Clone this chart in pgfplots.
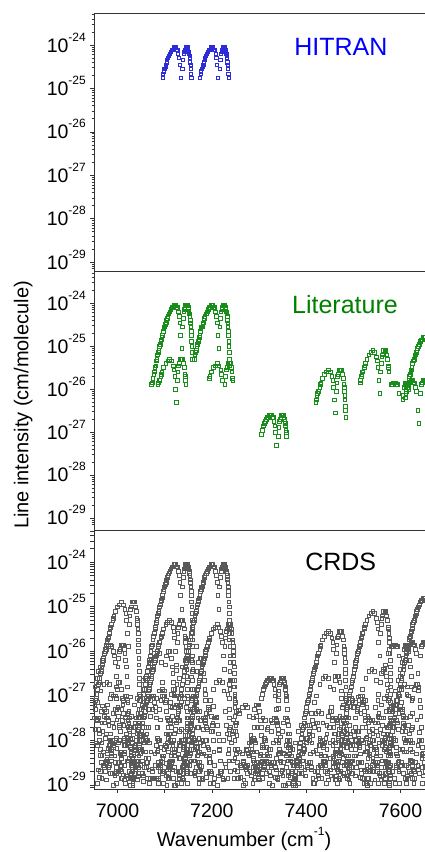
\documentclass[border=0pt]{standalone}
\usepackage{fontspec}
\setmainfont{Liberation Sans}
\usepackage{pgfplots}
\usepackage{pgfplotstable}
\pgfplotsset{compat=1.18}
\definecolor{hitblue}{RGB}{45,45,215}
\definecolor{titleblue}{RGB}{0,0,255}
\definecolor{litgreen}{RGB}{0,128,0}
\newcommand\tickfont{\fontsize{19.5bp}{22bp}\selectfont}
\newcommand\supfont{\fontsize{12bp}{12bp}\selectfont}
\newcommand\ylab[1]{10\raisebox{11bp}{\supfont #1}}

\pgfplotstableread{
x y l h
7133.4 1.8e-25 1 1
7131.8 3.5e-25 1 1
7130.1 5.0e-25 1 1
7128.4 6.3e-25 1 1
7126.6 7.9e-25 1 1
7124.8 7.9e-25 1 1
7122.9 8.9e-25 1 1
7121.0 8.9e-25 1 1
7119.0 8.9e-25 1 1
7117.0 7.9e-25 1 1
7114.9 7.9e-25 1 1
7112.8 7.1e-25 1 1
7110.6 6.3e-25 1 1
7108.4 5.6e-25 1 1
7106.1 5.0e-25 1 1
7105.0 4.5e-25 1 1
7103.8 4.0e-25 1 1
7102.6 3.5e-25 1 1
7101.4 3.2e-25 1 1
7100.2 2.8e-25 1 1
7099.0 2.8e-25 1 1
7097.7 2.5e-25 1 1
7096.5 2.2e-25 1 1
7095.2 1.8e-25 1 1
7094.0 1.6e-25 1 0
7092.7 1.4e-25 1 0
7091.4 1.3e-25 1 0
7090.1 1.1e-25 1 0
7088.7 1.0e-25 1 0
7087.4 7.9e-26 1 0
7086.1 7.1e-26 1 0
7084.7 6.3e-26 1 0
7083.3 5.0e-26 1 0
7081.9 4.5e-26 1 0
7080.5 3.5e-26 1 0
7079.1 3.2e-26 1 0
7077.7 2.5e-26 1 0
7076.3 2.2e-26 1 0
7074.8 1.8e-26 1 0
7073.4 1.4e-26 1 0
7071.9 1.3e-26 1 0
7070.4 1.0e-26 0 0
7068.9 7.9e-27 0 0
7067.4 6.3e-27 0 0
7065.9 5.6e-27 0 0
7064.3 4.5e-27 0 0
7062.8 3.5e-27 0 0
7061.2 2.8e-27 0 0
7059.7 2.2e-27 0 0
7058.1 1.8e-27 0 0
7056.5 1.4e-27 0 0
7054.9 1.1e-27 0 0
7053.2 8.9e-28 0 0
7051.6 6.3e-28 0 0
7049.9 5.0e-28 0 0
7048.3 4.0e-28 0 0
7046.6 3.2e-28 0 0
7044.9 2.5e-28 0 0
7043.2 1.8e-28 0 0
7041.5 1.4e-28 0 0
7039.8 1.0e-28 0 0
7038.0 7.9e-29 0 0
7036.3 6.3e-29 0 0
7034.5 4.5e-29 0 0
7032.8 3.5e-29 0 0
7031.0 2.5e-29 0 0
7029.1 1.8e-29 0 0
7027.4 1.4e-29 0 0
7025.5 1.0e-29 0 0
7135.8 8.9e-26 1 0
7137.3 2.8e-25 1 1
7138.7 4.5e-25 1 1
7140.1 6.3e-25 1 1
7141.5 7.1e-25 1 1
7142.8 7.9e-25 1 1
7144.0 8.9e-25 1 1
7145.2 8.9e-25 1 1
7146.3 8.9e-25 1 1
7147.4 8.9e-25 1 1
7148.5 8.9e-25 1 1
7149.5 7.9e-25 1 1
7150.4 7.1e-25 1 1
7151.3 6.3e-25 1 1
7152.2 5.6e-25 1 1
7152.9 5.0e-25 1 1
7153.7 4.0e-25 1 1
7154.4 3.5e-25 1 1
7155.0 2.8e-25 1 1
7155.6 2.2e-25 1 1
7156.1 1.8e-25 1 1
7156.6 1.3e-25 1 0
7157.1 1.0e-25 1 0
7157.5 7.1e-26 1 0
7157.8 5.0e-26 1 0
7158.1 3.5e-26 0 0
7158.3 2.5e-26 0 0
7158.5 1.8e-26 0 0
7158.7 1.3e-26 0 0
7158.7 7.9e-27 0 0
7158.8 5.6e-27 0 0
7158.8 3.5e-27 0 0
7158.7 2.2e-27 0 0
7158.6 1.4e-27 0 0
7158.4 8.9e-28 0 0
7158.2 5.0e-28 0 0
7157.9 3.2e-28 0 0
7157.6 1.8e-28 0 0
7157.3 1.1e-28 0 0
7156.8 6.3e-29 0 0
7156.4 3.5e-29 0 0
}\Bone

\pgfplotstableread{
x y l h
7212.4 1.8e-25 1 1
7210.8 3.5e-25 1 1
7209.1 5.0e-25 1 1
7207.4 6.3e-25 1 1
7205.6 7.9e-25 1 1
7203.8 7.9e-25 1 1
7201.9 8.9e-25 1 1
7200.0 8.9e-25 1 1
7198.0 8.9e-25 1 1
7196.0 7.9e-25 1 1
7193.9 7.9e-25 1 1
7191.8 7.1e-25 1 1
7189.6 6.3e-25 1 1
7187.4 5.6e-25 1 1
7185.1 5.0e-25 1 1
7184.0 4.5e-25 1 1
7182.8 4.0e-25 1 1
7181.6 3.5e-25 1 1
7180.4 3.2e-25 1 1
7179.2 2.8e-25 1 1
7178.0 2.8e-25 1 1
7176.7 2.5e-25 1 1
7175.5 2.2e-25 1 1
7174.2 1.8e-25 1 1
7173.0 1.6e-25 1 0
7171.7 1.4e-25 1 0
7170.4 1.3e-25 1 0
7169.1 1.1e-25 1 0
7167.7 1.0e-25 1 0
7166.4 7.9e-26 1 0
7165.1 7.1e-26 1 0
7163.7 6.3e-26 1 0
7162.3 5.0e-26 1 0
7160.9 4.5e-26 0 0
7159.5 3.5e-26 0 0
7158.1 3.2e-26 0 0
7156.7 2.5e-26 0 0
7155.3 2.2e-26 0 0
7153.8 1.8e-26 0 0
7152.4 1.4e-26 0 0
7150.9 1.3e-26 0 0
7149.4 1.0e-26 0 0
7147.9 7.9e-27 0 0
7146.4 6.3e-27 0 0
7144.9 5.6e-27 0 0
7143.3 4.5e-27 0 0
7141.8 3.5e-27 0 0
7140.2 2.8e-27 0 0
7138.7 2.2e-27 0 0
7137.1 1.8e-27 0 0
7135.5 1.4e-27 0 0
7133.9 1.1e-27 0 0
7132.2 8.9e-28 0 0
7130.6 6.3e-28 0 0
7128.9 5.0e-28 0 0
7127.3 4.0e-28 0 0
7125.6 3.2e-28 0 0
7123.9 2.5e-28 0 0
7122.2 1.8e-28 0 0
7120.5 1.4e-28 0 0
7118.8 1.0e-28 0 0
7117.0 7.9e-29 0 0
7115.3 6.3e-29 0 0
7113.5 4.5e-29 0 0
7111.8 3.5e-29 0 0
7110.0 2.5e-29 0 0
7108.1 1.8e-29 0 0
7106.4 1.4e-29 0 0
7104.5 1.0e-29 0 0
7214.8 8.9e-26 1 0
7216.3 2.8e-25 1 1
7217.7 4.5e-25 1 1
7219.1 6.3e-25 1 1
7220.5 7.1e-25 1 1
7221.8 7.9e-25 1 1
7223.0 8.9e-25 1 1
7224.2 8.9e-25 1 1
7225.3 8.9e-25 1 1
7226.4 8.9e-25 1 1
7227.5 8.9e-25 1 1
7228.5 7.9e-25 1 1
7229.4 7.1e-25 1 1
7230.3 6.3e-25 1 1
7231.2 5.6e-25 1 1
7231.9 5.0e-25 1 1
7232.7 4.0e-25 1 1
7233.4 3.5e-25 1 1
7234.0 2.8e-25 1 1
7234.6 2.2e-25 1 1
7235.1 1.8e-25 1 1
7235.6 1.3e-25 1 0
7236.1 1.0e-25 1 0
7236.5 7.1e-26 1 0
7236.8 5.0e-26 1 0
7237.1 3.5e-26 1 0
7237.3 2.5e-26 0 0
7237.5 1.8e-26 0 0
7237.7 1.3e-26 0 0
7237.7 7.9e-27 0 0
7237.8 5.6e-27 0 0
7237.8 3.5e-27 0 0
7237.7 2.2e-27 0 0
7237.6 1.4e-27 0 0
7237.4 8.9e-28 0 0
7237.2 5.0e-28 0 0
7236.9 3.2e-28 0 0
7236.6 1.8e-28 0 0
7236.3 1.1e-28 0 0
7235.8 6.3e-29 0 0
7235.4 3.5e-29 0 0
}\Btwo

\pgfplotstableread{
x y l
7122.4 1.0e-26 1
7120.8 2.0e-26 1
7119.1 2.8e-26 1
7117.4 3.5e-26 1
7113.8 4.5e-26 1
7110.0 5.0e-26 1
7106.0 4.5e-26 1
7101.8 4.0e-26 1
7097.4 3.2e-26 1
7094.0 2.5e-26 1
7092.8 2.2e-26 1
7091.6 2.0e-26 1
7089.2 1.6e-26 1
7088.0 1.6e-26 1
7086.7 1.4e-26 1
7085.5 1.3e-26 1
7084.2 1.0e-26 0
7083.0 8.9e-27 0
7081.7 7.9e-27 0
7080.4 7.1e-27 0
7079.1 6.3e-27 0
7077.7 5.6e-27 0
7076.4 4.5e-27 0
7075.1 4.0e-27 0
7073.7 3.5e-27 0
7072.3 2.8e-27 0
7070.9 2.5e-27 0
7069.5 2.0e-27 0
7068.1 1.8e-27 0
7066.7 1.4e-27 0
7065.3 1.3e-27 0
7063.8 1.0e-27 0
7062.4 7.9e-28 0
7060.9 7.1e-28 0
7059.4 5.6e-28 0
7057.9 4.5e-28 0
7056.4 3.5e-28 0
7054.9 3.2e-28 0
7053.3 2.5e-28 0
7051.8 2.0e-28 0
7050.2 1.6e-28 0
7048.7 1.3e-28 0
7047.1 1.0e-28 0
7045.5 7.9e-29 0
7043.9 6.3e-29 0
7042.2 5.0e-29 0
7040.6 3.5e-29 0
7038.9 2.8e-29 0
7037.3 2.2e-29 0
7035.6 1.8e-29 0
7033.9 1.4e-29 0
7032.2 1.0e-29 0
7124.8 5.0e-27 1
7126.3 1.6e-26 1
7127.7 2.5e-26 1
7129.1 3.5e-26 1
7130.5 4.0e-26 1
7133.0 5.0e-26 1
7135.3 5.0e-26 1
7137.5 5.0e-26 1
7139.4 4.0e-26 1
7141.2 3.2e-26 1
7142.7 2.2e-26 1
7143.4 2.0e-26 1
7144.0 1.6e-26 1
7144.6 1.3e-26 1
7145.1 1.0e-26 0
7145.6 7.1e-27 0
7146.1 5.6e-27 0
7146.5 4.0e-27 0
7146.8 2.8e-27 0
7147.1 2.0e-27 0
7147.3 1.4e-27 0
7147.5 1.0e-27 0
7147.7 7.1e-28 0
7147.7 4.5e-28 0
7147.8 3.2e-28 0
7147.8 2.0e-28 0
7147.7 1.3e-28 0
7147.6 7.9e-29 0
7147.4 5.0e-29 0
7147.2 2.8e-29 0
7146.9 1.8e-29 0
}\Cfive

\pgfplotstableread{
x y l
7223.4 7.9e-27 0
7221.8 1.6e-26 1
7220.1 2.2e-26 1
7218.4 2.8e-26 1
7214.8 3.5e-26 1
7211.0 4.0e-26 1
7207.0 3.5e-26 1
7202.8 3.2e-26 1
7198.4 2.5e-26 1
7195.0 2.0e-26 1
7193.8 1.8e-26 1
7192.6 1.6e-26 0
7190.2 1.3e-26 0
7189.0 1.3e-26 0
7187.7 1.1e-26 0
7186.5 1.0e-26 0
7185.2 7.9e-27 0
7184.0 7.1e-27 0
7182.7 6.3e-27 0
7181.4 5.6e-27 0
7180.1 5.0e-27 0
7178.7 4.5e-27 0
7177.4 3.5e-27 0
7176.1 3.2e-27 0
7174.7 2.8e-27 0
7173.3 2.2e-27 0
7171.9 2.0e-27 0
7170.5 1.6e-27 0
7169.1 1.4e-27 0
7167.7 1.1e-27 0
7166.3 1.0e-27 0
7164.8 7.9e-28 0
7163.4 6.3e-28 0
7161.9 5.6e-28 0
7160.4 4.5e-28 0
7158.9 3.5e-28 0
7157.4 2.8e-28 0
7155.9 2.5e-28 0
7154.3 2.0e-28 0
7152.8 1.6e-28 0
7151.2 1.3e-28 0
7149.7 1.0e-28 0
7148.1 7.9e-29 0
7146.5 6.3e-29 0
7144.9 5.0e-29 0
7143.2 4.0e-29 0
7141.6 2.8e-29 0
7139.9 2.2e-29 0
7138.3 1.8e-29 0
7136.6 1.4e-29 0
7134.9 1.1e-29 0
7225.8 4.0e-27 0
7227.3 1.3e-26 1
7228.7 2.0e-26 1
7230.1 2.8e-26 1
7231.5 3.2e-26 1
7234.0 4.0e-26 1
7236.3 4.0e-26 1
7238.5 4.0e-26 1
7240.4 3.2e-26 1
7242.2 2.5e-26 1
7243.7 1.8e-26 1
7244.4 1.6e-26 1
7245.0 1.3e-26 0
7245.6 1.0e-26 0
7246.1 7.9e-27 0
7246.6 5.6e-27 0
7247.1 4.5e-27 0
7247.5 3.2e-27 0
7247.8 2.2e-27 0
7248.1 1.6e-27 0
7248.3 1.1e-27 0
7248.5 7.9e-28 0
7248.7 5.6e-28 0
7248.7 3.5e-28 0
7248.8 2.5e-28 0
7248.8 1.6e-28 0
7248.7 1.0e-28 0
7248.6 6.3e-29 0
7248.4 4.0e-29 0
7248.2 2.2e-29 0
7247.9 1.4e-29 0
}\Csix

\pgfplotstableread{
x y l
7336.4 5.0e-28 1
7334.8 1.0e-27 1
7333.1 1.4e-27 1
7331.4 1.8e-27 1
7329.6 2.2e-27 1
7327.8 2.2e-27 1
7325.9 2.5e-27 1
7324.0 2.5e-27 1
7322.0 2.5e-27 1
7320.0 2.2e-27 1
7317.9 2.2e-27 1
7315.8 2.0e-27 1
7313.6 1.8e-27 1
7311.4 1.6e-27 1
7309.1 1.4e-27 1
7306.8 1.1e-27 1
7304.4 8.9e-28 1
7299.5 6.3e-28 0
7294.4 3.5e-28 0
7289.1 2.0e-28 0
7283.5 1.0e-28 0
7277.8 5.0e-29 0
7271.9 2.2e-29 0
7265.8 1.0e-29 0
7338.8 2.5e-28 0
7340.3 7.9e-28 1
7341.7 1.3e-27 1
7343.1 1.8e-27 1
7344.5 2.0e-27 1
7345.8 2.2e-27 1
7347.0 2.5e-27 1
7348.2 2.5e-27 1
7349.3 2.5e-27 1
7350.4 2.5e-27 1
7351.5 2.5e-27 1
7352.5 2.2e-27 1
7353.4 2.0e-27 1
7354.3 1.8e-27 1
7355.2 1.6e-27 1
7355.9 1.4e-27 1
7356.7 1.1e-27 1
7357.4 1.0e-27 1
7358.0 7.9e-28 1
7359.1 5.0e-28 0
7360.1 2.8e-28 0
7360.8 1.4e-28 0
7361.3 7.1e-29 0
7361.7 3.5e-29 0
7361.8 1.6e-29 0
}\Celeven

\pgfplotstableread{
x y l
7459.4 5.6e-27 1
7457.8 1.1e-26 1
7456.1 1.6e-26 1
7454.4 2.0e-26 1
7450.8 2.5e-26 1
7447.0 2.8e-26 1
7443.0 2.5e-26 1
7438.8 2.2e-26 1
7434.4 1.8e-26 1
7431.0 1.4e-26 1
7429.8 1.3e-26 1
7428.6 1.1e-26 1
7426.2 8.9e-27 1
7425.0 8.9e-27 1
7423.7 7.9e-27 1
7422.5 7.1e-27 1
7421.2 5.6e-27 1
7420.0 5.0e-27 1
7418.7 4.5e-27 0
7417.4 4.0e-27 0
7416.1 3.5e-27 0
7414.7 3.2e-27 0
7413.4 2.5e-27 0
7412.1 2.2e-27 0
7410.7 2.0e-27 0
7409.3 1.6e-27 0
7407.9 1.4e-27 0
7406.5 1.1e-27 0
7405.1 1.0e-27 0
7403.7 7.9e-28 0
7402.3 7.1e-28 0
7400.8 5.6e-28 0
7399.4 4.5e-28 0
7397.9 4.0e-28 0
7396.4 3.2e-28 0
7394.9 2.5e-28 0
7393.4 2.0e-28 0
7391.9 1.8e-28 0
7390.3 1.4e-28 0
7388.8 1.1e-28 0
7387.2 8.9e-29 0
7385.7 7.1e-29 0
7384.1 5.6e-29 0
7382.5 4.5e-29 0
7380.9 3.5e-29 0
7379.2 2.8e-29 0
7377.6 2.0e-29 0
7375.9 1.6e-29 0
7374.3 1.3e-29 0
7372.6 1.0e-29 0
7461.8 2.8e-27 1
7463.3 8.9e-27 1
7464.7 1.4e-26 1
7466.1 2.0e-26 1
7467.5 2.2e-26 1
7470.0 2.8e-26 1
7472.3 2.8e-26 1
7474.5 2.8e-26 1
7476.4 2.2e-26 1
7478.2 1.8e-26 1
7479.7 1.3e-26 1
7480.4 1.1e-26 1
7481.0 8.9e-27 1
7481.6 7.1e-27 1
7482.1 5.6e-27 1
7482.6 4.0e-27 1
7483.1 3.2e-27 1
7483.5 2.2e-27 1
7483.8 1.6e-27 0
7484.1 1.1e-27 0
7484.3 7.9e-28 0
7484.5 5.6e-28 0
7484.7 4.0e-28 0
7484.7 2.5e-28 0
7484.8 1.8e-28 0
7484.8 1.1e-28 0
7484.7 7.1e-29 0
7484.6 4.5e-29 0
7484.4 2.8e-29 0
7484.2 1.6e-29 0
}\Cfifteen

\pgfplotstableread{
x y l
7553.4 1.6e-26 1
7551.8 3.2e-26 1
7550.1 4.5e-26 1
7548.4 5.6e-26 1
7544.8 7.1e-26 1
7541.0 7.9e-26 1
7537.0 7.1e-26 1
7532.8 6.3e-26 1
7528.4 5.0e-26 1
7525.0 4.0e-26 1
7523.8 3.5e-26 1
7522.6 3.2e-26 1
7520.2 2.5e-26 1
7519.0 2.5e-26 1
7517.7 2.2e-26 1
7516.5 2.0e-26 1
7515.2 1.6e-26 1
7514.0 1.4e-26 1
7512.7 1.3e-26 0
7511.4 1.1e-26 0
7510.1 1.0e-26 0
7508.7 8.9e-27 0
7507.4 7.1e-27 0
7506.1 6.3e-27 0
7504.7 5.6e-27 0
7503.3 4.5e-27 0
7501.9 4.0e-27 0
7500.5 3.2e-27 0
7499.1 2.8e-27 0
7497.7 2.2e-27 0
7496.3 2.0e-27 0
7494.8 1.6e-27 0
7493.4 1.3e-27 0
7491.9 1.1e-27 0
7490.4 8.9e-28 0
7488.9 7.1e-28 0
7487.4 5.6e-28 0
7485.9 5.0e-28 0
7484.3 4.0e-28 0
7482.8 3.2e-28 0
7481.2 2.5e-28 0
7479.7 2.0e-28 0
7478.1 1.6e-28 0
7476.5 1.3e-28 0
7474.9 1.0e-28 0
7473.2 7.9e-29 0
7471.6 5.6e-29 0
7469.9 4.5e-29 0
7468.3 3.5e-29 0
7466.6 2.8e-29 0
7464.9 2.2e-29 0
7463.2 1.6e-29 0
7461.5 1.3e-29 0
7555.8 7.9e-27 1
7557.3 2.5e-26 1
7558.7 4.0e-26 1
7560.1 5.6e-26 1
7561.5 6.3e-26 1
7564.0 7.9e-26 1
7566.3 7.9e-26 1
7568.5 7.9e-26 1
7570.4 6.3e-26 1
7572.2 5.0e-26 1
7573.7 3.5e-26 1
7574.4 3.2e-26 1
7575.0 2.5e-26 1
7575.6 2.0e-26 0
7576.1 1.6e-26 0
7576.6 1.1e-26 0
7577.1 8.9e-27 0
7577.5 6.3e-27 0
7577.8 4.5e-27 0
7578.1 3.2e-27 0
7578.3 2.2e-27 0
7578.5 1.6e-27 0
7578.7 1.1e-27 0
7578.7 7.1e-28 0
7578.8 5.0e-28 0
7578.8 3.2e-28 0
7578.7 2.0e-28 0
7578.6 1.3e-28 0
7578.4 7.9e-29 0
7578.2 4.5e-29 0
7577.9 2.8e-29 0
7577.6 1.6e-29 0
}\Csixteen

\pgfplotstableread{
x y l
7651.9 1.6e-25 1
7650.0 1.6e-25 1
7648.0 1.6e-25 1
7646.0 1.4e-25 1
7643.9 1.4e-25 1
7641.8 1.3e-25 1
7639.6 1.1e-25 1
7637.4 1.0e-25 1
7635.1 8.9e-26 1
7634.0 7.9e-26 1
7632.8 7.1e-26 1
7631.6 6.3e-26 1
7630.4 5.6e-26 1
7629.2 5.0e-26 1
7628.0 5.0e-26 1
7626.7 4.5e-26 1
7625.5 4.0e-26 1
7624.2 3.2e-26 1
7623.0 2.8e-26 1
7621.7 2.5e-26 1
7620.4 2.2e-26 1
7619.1 2.0e-26 1
7617.7 1.8e-26 1
7616.4 1.4e-26 1
7615.1 1.3e-26 1
7613.7 1.1e-26 1
7612.3 8.9e-27 1
7610.9 7.9e-27 1
7609.5 6.3e-27 1
7608.1 5.6e-27 0
7606.7 4.5e-27 0
7605.3 4.0e-27 0
7603.8 3.2e-27 0
7602.4 2.5e-27 0
7600.9 2.2e-27 0
7599.4 1.8e-27 0
7597.9 1.4e-27 0
7596.4 1.1e-27 0
7594.9 1.0e-27 0
7593.3 7.9e-28 0
7591.8 6.3e-28 0
7590.2 5.0e-28 0
7588.7 4.0e-28 0
7587.1 3.2e-28 0
7585.5 2.5e-28 0
7583.9 2.0e-28 0
7582.2 1.6e-28 0
7580.6 1.1e-28 0
7578.9 8.9e-29 0
7577.3 7.1e-29 0
7575.6 5.6e-29 0
7573.9 4.5e-29 0
7572.2 3.2e-29 0
7570.5 2.5e-29 0
7568.8 1.8e-29 0
7567.0 1.4e-29 0
7565.3 1.1e-29 0
}\Cseventeen

\pgfplotstableread{
x y l
7636.4 3.2e-27 1
7633.1 8.9e-27 1
7631.4 1.1e-26 1
7629.6 1.4e-26 1
7627.8 1.4e-26 1
7625.9 1.6e-26 1
7624.0 1.6e-26 1
7622.0 1.6e-26 1
7620.0 1.4e-26 1
7617.9 1.4e-26 1
7615.8 1.3e-26 1
7611.4 1.0e-26 1
7604.4 5.6e-27 1
7599.5 4.0e-27 0
7594.4 2.2e-27 0
7589.1 1.3e-27 0
7583.5 6.3e-28 0
7577.8 3.2e-28 0
7571.9 1.4e-28 0
7565.8 6.3e-29 0
7559.5 2.5e-29 0
7638.8 1.6e-27 1
7641.7 7.9e-27 1
7644.5 1.3e-26 1
7645.8 1.4e-26 1
7647.0 1.6e-26 1
7648.2 1.6e-26 1
7649.3 1.6e-26 1
7650.4 1.6e-26 1
7651.5 1.6e-26 1
}\Ctwenty

\pgfplotstableread{
x y l
7599.4 2.8e-27 0
7596.1 7.9e-27 1
7592.6 1.3e-26 1
7590.8 1.3e-26 1
7588.9 1.4e-26 1
7587.0 1.4e-26 1
7585.0 1.4e-26 1
7583.0 1.3e-26 1
7580.9 1.3e-26 1
7574.4 8.9e-27 0
7567.4 5.0e-27 0
7562.5 3.5e-27 0
7557.4 2.0e-27 0
7552.1 1.1e-27 0
7546.5 5.6e-28 0
7540.8 2.8e-28 0
7534.9 1.3e-28 0
7528.8 5.6e-29 0
7522.5 2.2e-29 0
7601.8 1.4e-27 0
7604.7 7.1e-27 1
7607.5 1.1e-26 1
7608.8 1.3e-26 1
7610.0 1.4e-26 1
7611.2 1.4e-26 1
7612.3 1.4e-26 1
7613.4 1.4e-26 1
7614.5 1.4e-26 1
7617.3 1.0e-26 1
7619.7 6.3e-27 0
7621.0 4.5e-27 0
7622.1 2.8e-27 0
7623.1 1.6e-27 0
7623.8 7.9e-28 0
7624.3 4.0e-28 0
7624.7 2.0e-28 0
7624.8 8.9e-29 0
7624.7 3.5e-29 0
7624.4 1.4e-29 0
}\Ctwentyone

\pgfplotstableread{
x y
7020.4 2.5e-26
7018.8 5.0e-26
7017.1 7.1e-26
7015.4 8.9e-26
7011.8 1.1e-25
7008.0 1.3e-25
7004.0 1.1e-25
6999.8 1.0e-25
6995.4 7.9e-26
6992.0 6.3e-26
6990.8 5.6e-26
6989.6 5.0e-26
6987.2 4.0e-26
6986.0 4.0e-26
6984.7 3.5e-26
6983.5 3.2e-26
6982.2 2.5e-26
6981.0 2.2e-26
6979.7 2.0e-26
6978.4 1.8e-26
6977.1 1.6e-26
6975.7 1.4e-26
6974.4 1.1e-26
6973.1 1.0e-26
6971.7 8.9e-27
6970.3 7.1e-27
6968.9 6.3e-27
6967.5 5.0e-27
6966.1 4.5e-27
6964.7 3.5e-27
6963.3 3.2e-27
6961.8 2.5e-27
6960.4 2.0e-27
6958.9 1.8e-27
6957.4 1.4e-27
6955.9 1.1e-27
6954.4 8.9e-28
6952.9 7.9e-28
6951.3 6.3e-28
7022.8 1.3e-26
7024.3 4.0e-26
7025.7 6.3e-26
7027.1 8.9e-26
7028.5 1.0e-25
7031.0 1.3e-25
7033.3 1.3e-25
7035.5 1.3e-25
7037.4 1.0e-25
7039.2 7.9e-26
7040.7 5.6e-26
7041.4 5.0e-26
7042.0 4.0e-26
7042.6 3.2e-26
7043.1 2.5e-26
7043.6 1.8e-26
7044.1 1.4e-26
7044.5 1.0e-26
7044.8 7.1e-27
7045.1 5.0e-27
7045.3 3.5e-27
7045.5 2.5e-27
7045.7 1.8e-27
7045.7 1.1e-27
7045.8 7.9e-28
7045.8 5.0e-28
7045.7 3.2e-28
7045.6 2.0e-28
7045.4 1.3e-28
7045.2 7.1e-29
7044.9 4.5e-29
7044.6 2.5e-29
7044.3 1.6e-29
6996.4 2.8e-27
6994.8 5.6e-27
6993.1 7.9e-27
6991.4 1.0e-26
6987.8 1.3e-26
6984.0 1.4e-26
6980.0 1.3e-26
6975.8 1.1e-26
6971.4 8.9e-27
6966.8 6.3e-27
6962.0 4.5e-27
6959.5 3.5e-27
6957.0 2.5e-27
6954.4 2.0e-27
6951.7 1.6e-27
6998.8 1.4e-27
7000.3 4.5e-27
7001.7 7.1e-27
7003.1 1.0e-26
7004.5 1.1e-26
7007.0 1.4e-26
7009.3 1.4e-26
7011.5 1.4e-26
7013.4 1.1e-26
7015.2 8.9e-27
7016.7 6.3e-27
7018.0 4.5e-27
7019.1 2.8e-27
7020.1 1.6e-27
7020.8 7.9e-28
7021.3 4.0e-28
7021.7 2.0e-28
7021.8 8.9e-29
7021.7 3.5e-29
7021.4 1.4e-29
7162.4 1.4e-27
7159.1 4.0e-27
7155.6 6.3e-27
7150.0 7.1e-27
7143.9 6.3e-27
7137.4 4.5e-27
7130.4 2.5e-27
7125.5 1.8e-27
7120.4 1.0e-27
7115.1 5.6e-28
7109.5 2.8e-28
7103.8 1.4e-28
7097.9 6.3e-29
7091.8 2.8e-29
7085.5 1.1e-29
7164.8 7.1e-28
7167.7 3.5e-27
7170.5 5.6e-27
7174.2 7.1e-27
7177.5 7.1e-27
7180.3 5.0e-27
7182.7 3.2e-27
7184.0 2.2e-27
7185.1 1.4e-27
7186.1 7.9e-28
7186.8 4.0e-28
7187.3 2.0e-28
7187.7 1.0e-28
7187.8 4.5e-29
7187.7 1.8e-29
7095.4 2.0e-27
7092.1 5.6e-27
7088.6 8.9e-27
7083.0 1.0e-26
7076.9 8.9e-27
7070.4 6.3e-27
7063.4 3.5e-27
7058.5 2.5e-27
7053.4 1.4e-27
7048.1 7.9e-28
7042.5 4.0e-28
7036.8 2.0e-28
7030.9 8.9e-29
7024.8 4.0e-29
7018.5 1.6e-29
7097.8 1.0e-27
7100.7 5.0e-27
7103.5 7.9e-27
7107.2 1.0e-26
7110.5 1.0e-26
7113.3 7.1e-27
7115.7 4.5e-27
7117.0 3.2e-27
7118.1 2.0e-27
7119.1 1.1e-27
7119.8 5.6e-28
7120.3 2.8e-28
7120.7 1.4e-28
7120.8 6.3e-29
7120.7 2.5e-29
7120.4 1.0e-29
6989.4 4.0e-28
6986.1 1.1e-27
6982.6 1.8e-27
6977.0 2.0e-27
6970.9 1.8e-27
6964.4 1.3e-27
6957.4 7.1e-28
6952.5 5.0e-28
6991.8 2.0e-28
6994.7 1.0e-27
6997.5 1.6e-27
7001.2 2.0e-27
7004.5 2.0e-27
7007.3 1.4e-27
7009.7 8.9e-28
7011.0 6.3e-28
7012.1 4.0e-28
7013.1 2.2e-28
7013.8 1.1e-28
7014.3 5.6e-29
7014.7 2.8e-29
7014.8 1.3e-29
7228.4 4.5e-28
7225.1 1.3e-27
7221.6 2.0e-27
7216.0 2.2e-27
7209.9 2.0e-27
7203.4 1.4e-27
7196.4 7.9e-28
7191.5 5.6e-28
7186.4 3.2e-28
7181.1 1.8e-28
7175.5 8.9e-29
7169.8 4.5e-29
7163.9 2.0e-29
7230.8 2.2e-28
7233.7 1.1e-27
7236.5 1.8e-27
7240.2 2.2e-27
7243.5 2.2e-27
7246.3 1.6e-27
7248.7 1.0e-27
7250.0 7.1e-28
7251.1 4.5e-28
7252.1 2.5e-28
7252.8 1.3e-28
7253.3 6.3e-29
7253.7 3.2e-29
7253.8 1.4e-29
7320.4 6.3e-29
7317.1 1.8e-28
7313.6 2.8e-28
7308.0 3.2e-28
7301.9 2.8e-28
7295.4 2.0e-28
7288.4 1.1e-28
7283.5 7.9e-29
7278.4 4.5e-29
7273.1 2.5e-29
7267.5 1.3e-29
7322.8 3.2e-29
7325.7 1.6e-28
7328.5 2.5e-28
7332.2 3.2e-28
7335.5 3.2e-28
7338.3 2.2e-28
7340.7 1.4e-28
7342.0 1.0e-28
7343.1 6.3e-29
7344.1 3.5e-29
7344.8 1.8e-29
7328.4 1.0e-29
7325.1 2.8e-29
7321.6 4.5e-29
7316.0 5.0e-29
7309.9 4.5e-29
7303.4 3.2e-29
7296.4 1.8e-29
7291.5 1.3e-29
7333.7 2.5e-29
7336.5 4.0e-29
7340.2 5.0e-29
7343.5 5.0e-29
7346.3 3.5e-29
7348.7 2.2e-29
7350.0 1.6e-29
7351.1 1.0e-29
7282.4 1.3e-28
7279.1 3.5e-28
7275.6 5.6e-28
7270.0 6.3e-28
7263.9 5.6e-28
7257.4 4.0e-28
7250.4 2.2e-28
7245.5 1.6e-28
7240.4 8.9e-29
7235.1 5.0e-29
7229.5 2.5e-29
7223.8 1.3e-29
7284.8 6.3e-29
7287.7 3.2e-28
7290.5 5.0e-28
7294.2 6.3e-28
7297.5 6.3e-28
7300.3 4.5e-28
7302.7 2.8e-28
7304.0 2.0e-28
7305.1 1.3e-28
7306.1 7.1e-29
7306.8 3.5e-29
7307.3 1.8e-29
7453.4 5.6e-28
7450.1 1.6e-27
7446.6 2.5e-27
7441.0 2.8e-27
7434.9 2.5e-27
7428.4 1.8e-27
7421.4 1.0e-27
7416.5 7.1e-28
7411.4 4.0e-28
7406.1 2.2e-28
7400.5 1.1e-28
7394.8 5.6e-29
7388.9 2.5e-29
7382.8 1.1e-29
7455.8 2.8e-28
7458.7 1.4e-27
7461.5 2.2e-27
7465.2 2.8e-27
7468.5 2.8e-27
7471.3 2.0e-27
7473.7 1.3e-27
7475.0 8.9e-28
7476.1 5.6e-28
7477.1 3.2e-28
7477.8 1.6e-28
7478.3 7.9e-29
7478.7 4.0e-29
7478.8 1.8e-29
7551.4 7.9e-28
7548.1 2.2e-27
7544.6 3.5e-27
7539.0 4.0e-27
7532.9 3.5e-27
7526.4 2.5e-27
7519.4 1.4e-27
7514.5 1.0e-27
7509.4 5.6e-28
7504.1 3.2e-28
7498.5 1.6e-28
7492.8 7.9e-29
7486.9 3.5e-29
7480.8 1.6e-29
7553.8 4.0e-28
7556.7 2.0e-27
7559.5 3.2e-27
7563.2 4.0e-27
7566.5 4.0e-27
7569.3 2.8e-27
7571.7 1.8e-27
7573.0 1.3e-27
7574.1 7.9e-28
7575.1 4.5e-28
7575.8 2.2e-28
7576.3 1.1e-28
7576.7 5.6e-29
7576.8 2.5e-29
7576.7 1.0e-29
7438.4 8.9e-29
7435.1 2.5e-28
7431.6 4.0e-28
7426.0 4.5e-28
7419.9 4.0e-28
7413.4 2.8e-28
7406.4 1.6e-28
7401.5 1.1e-28
7396.4 6.3e-29
7391.1 3.5e-29
7385.5 1.8e-29
7440.8 4.5e-29
7443.7 2.2e-28
7446.5 3.5e-28
7450.2 4.5e-28
7453.5 4.5e-28
7456.3 3.2e-28
7458.7 2.0e-28
7460.0 1.4e-28
7461.1 8.9e-29
7462.1 5.0e-29
7462.8 2.5e-29
7463.3 1.3e-29
7510.4 1.6e-28
7507.1 4.5e-28
7503.6 7.1e-28
7498.0 7.9e-28
7491.9 7.1e-28
7485.4 5.0e-28
7478.4 2.8e-28
7473.5 2.0e-28
7468.4 1.1e-28
7463.1 6.3e-29
7457.5 3.2e-29
7451.8 1.6e-29
7512.8 7.9e-29
7515.7 4.0e-28
7518.5 6.3e-28
7522.2 7.9e-28
7525.5 7.9e-28
7528.3 5.6e-28
7530.7 3.5e-28
7532.0 2.5e-28
7533.1 1.6e-28
7534.1 8.9e-29
7534.8 4.5e-29
7535.3 2.2e-29
7535.7 1.1e-29
7202.1 1.1e-29
7198.6 1.8e-29
7193.0 2.0e-29
7186.9 1.8e-29
7180.4 1.3e-29
7210.7 1.0e-29
7213.5 1.6e-29
7217.2 2.0e-29
7220.5 2.0e-29
7223.3 1.4e-29
7060.4 2.0e-28
7057.1 5.6e-28
7053.6 8.9e-28
7048.0 1.0e-27
7041.9 8.9e-28
7035.4 6.3e-28
7028.4 3.5e-28
7023.5 2.5e-28
7018.4 1.4e-28
7013.1 7.9e-29
7007.5 4.0e-29
7001.8 2.0e-29
7062.8 1.0e-28
7065.7 5.0e-28
7068.5 7.9e-28
7072.2 1.0e-27
7075.5 1.0e-27
7078.3 7.1e-28
7080.7 4.5e-28
7082.0 3.2e-28
7083.1 2.0e-28
7084.1 1.1e-28
7084.8 5.6e-29
7085.3 2.8e-29
7085.7 1.4e-29
7106.4 2.8e-28
7103.1 7.9e-28
7099.6 1.3e-27
7094.0 1.4e-27
7087.9 1.3e-27
7081.4 8.9e-28
7074.4 5.0e-28
7069.5 3.5e-28
7064.4 2.0e-28
7059.1 1.1e-28
7053.5 5.6e-29
7047.8 2.8e-29
7041.9 1.3e-29
7108.8 1.4e-28
7111.7 7.1e-28
7114.5 1.1e-27
7118.2 1.4e-27
7121.5 1.4e-27
7124.3 1.0e-27
7126.7 6.3e-28
7128.0 4.5e-28
7129.1 2.8e-28
7130.1 1.6e-28
7130.8 7.9e-29
7131.3 4.0e-29
7131.7 2.0e-29
7180.4 1.0e-28
7177.1 2.8e-28
7173.6 4.5e-28
7168.0 5.0e-28
7161.9 4.5e-28
7155.4 3.2e-28
7148.4 1.8e-28
7143.5 1.3e-28
7138.4 7.1e-29
7133.1 4.0e-29
7127.5 2.0e-29
7121.8 1.0e-29
7182.8 5.0e-29
7185.7 2.5e-28
7188.5 4.0e-28
7192.2 5.0e-28
7195.5 5.0e-28
7198.3 3.5e-28
7200.7 2.2e-28
7202.0 1.6e-28
7203.1 1.0e-28
7204.1 5.6e-29
7204.8 2.8e-29
7205.3 1.4e-29
7038.4 2.5e-29
7035.1 7.1e-29
7031.6 1.1e-28
7026.0 1.3e-28
7019.9 1.1e-28
7013.4 7.9e-29
7006.4 4.5e-29
7001.5 3.2e-29
6996.4 1.8e-29
6991.1 1.0e-29
7043.7 6.3e-29
7046.5 1.0e-28
7050.2 1.3e-28
7053.5 1.3e-28
7056.3 8.9e-29
7058.7 5.6e-29
7060.0 4.0e-29
7061.1 2.5e-29
7062.1 1.4e-29
7148.4 2.0e-29
7145.1 5.6e-29
7141.6 8.9e-29
7136.0 1.0e-28
7129.9 8.9e-29
7123.4 6.3e-29
7116.4 3.5e-29
7111.5 2.5e-29
7106.4 1.4e-29
7153.7 5.0e-29
7156.5 7.9e-29
7160.2 1.0e-28
7163.5 1.0e-28
7166.3 7.1e-29
7168.7 4.5e-29
7170.0 3.2e-29
7171.1 2.0e-29
7172.1 1.1e-29
7408.4 5.0e-29
7405.1 1.4e-28
7401.6 2.2e-28
7396.0 2.5e-28
7389.9 2.2e-28
7383.4 1.6e-28
7376.4 8.9e-29
7371.5 6.3e-29
7366.4 3.5e-29
7361.1 2.0e-29
7355.5 1.0e-29
7410.8 2.5e-29
7413.7 1.3e-28
7416.5 2.0e-28
7420.2 2.5e-28
7423.5 2.5e-28
7426.3 1.8e-28
7428.7 1.1e-28
7430.0 7.9e-29
7431.1 5.0e-29
7432.1 2.8e-29
7432.8 1.4e-29
7493.4 3.2e-29
7490.1 8.9e-29
7486.6 1.4e-28
7481.0 1.6e-28
7474.9 1.4e-28
7468.4 1.0e-28
7461.4 5.6e-29
7456.5 4.0e-29
7451.4 2.2e-29
7446.1 1.3e-29
7498.7 7.9e-29
7501.5 1.3e-28
7505.2 1.6e-28
7508.5 1.6e-28
7511.3 1.1e-28
7513.7 7.1e-29
7515.0 5.0e-29
7516.1 3.2e-29
7517.1 1.8e-29
7588.4 1.0e-28
7585.1 2.8e-28
7581.6 4.5e-28
7576.0 5.0e-28
7569.9 4.5e-28
7563.4 3.2e-28
7556.4 1.8e-28
7551.5 1.3e-28
7546.4 7.1e-29
7541.1 4.0e-29
7535.5 2.0e-29
7529.8 1.0e-29
7590.8 5.0e-29
7593.7 2.5e-28
7596.5 4.0e-28
7600.2 5.0e-28
7603.5 5.0e-28
7606.3 3.5e-28
7608.7 2.2e-28
7610.0 1.6e-28
7611.1 1.0e-28
7612.1 5.6e-29
7612.8 2.8e-29
7613.3 1.4e-29
7620.4 3.5e-28
7617.1 1.0e-27
7613.6 1.6e-27
7608.0 1.8e-27
7601.9 1.6e-27
7595.4 1.1e-27
7588.4 6.3e-28
7583.5 4.5e-28
7578.4 2.5e-28
7573.1 1.4e-28
7567.5 7.1e-29
7561.8 3.5e-29
7555.9 1.6e-29
7622.8 1.8e-28
7625.7 8.9e-28
7628.5 1.4e-27
7632.2 1.8e-27
7635.5 1.8e-27
7638.3 1.3e-27
7640.7 7.9e-28
7642.0 5.6e-28
7643.1 3.5e-28
7644.1 2.0e-28
7644.8 1.0e-28
7645.3 5.0e-29
7645.7 2.5e-29
7645.8 1.1e-29
7376.4 1.0e-29
7373.1 2.8e-29
7369.6 4.5e-29
7364.0 5.0e-29
7357.9 4.5e-29
7351.4 3.2e-29
7344.4 1.8e-29
7339.5 1.3e-29
7381.7 2.5e-29
7384.5 4.0e-29
7388.2 5.0e-29
7391.5 5.0e-29
7394.3 3.5e-29
7396.7 2.2e-29
7398.0 1.6e-29
7270.4 1.1e-29
7267.1 3.2e-29
7263.6 5.0e-29
7258.0 5.6e-29
7251.9 5.0e-29
7245.4 3.5e-29
7238.4 2.0e-29
7233.5 1.4e-29
7275.7 2.8e-29
7278.5 4.5e-29
7282.2 5.6e-29
7285.5 5.6e-29
7288.3 4.0e-29
7290.7 2.5e-29
7292.0 1.8e-29
6983.4 1.0e-28
6980.1 2.8e-28
6976.6 4.5e-28
6971.0 5.0e-28
6964.9 4.5e-28
6958.4 3.2e-28
6951.4 1.8e-28
6985.8 5.0e-29
6988.7 2.5e-28
6991.5 4.0e-28
6995.2 5.0e-28
6998.5 5.0e-28
7001.3 3.5e-28
7003.7 2.2e-28
7005.0 1.6e-28
7006.1 1.0e-28
7007.1 5.6e-29
7007.8 2.8e-29
7008.3 1.4e-29
}\Cweak

\pgfplotstableread{
x y
6973.4 2.0e-29
6970.1 5.6e-29
6966.6 8.9e-29
6961.0 1.0e-28
6954.9 8.9e-29
6978.7 5.0e-29
6981.5 7.9e-29
6985.2 1.0e-28
6988.5 1.0e-28
6991.3 7.1e-29
6993.7 4.5e-29
6995.0 3.2e-29
6996.1 2.0e-29
6997.1 1.1e-29
7008.4 2.0e-29
7005.1 5.6e-29
7001.6 8.9e-29
6996.0 1.0e-28
6989.9 8.9e-29
6983.4 6.3e-29
6976.4 3.5e-29
6971.5 2.5e-29
6966.4 1.4e-29
7013.7 5.0e-29
7016.5 7.9e-29
7020.2 1.0e-28
7023.5 1.0e-28
7026.3 7.1e-29
7028.7 4.5e-29
7030.0 3.2e-29
7031.1 2.0e-29
7032.1 1.1e-29
7073.4 2.0e-29
7070.1 5.6e-29
7066.6 8.9e-29
7061.0 1.0e-28
7054.9 8.9e-29
7048.4 6.3e-29
7041.4 3.5e-29
7036.5 2.5e-29
7031.4 1.4e-29
7078.7 5.0e-29
7081.5 7.9e-29
7085.2 1.0e-28
7088.5 1.0e-28
7091.3 7.1e-29
7093.7 4.5e-29
7095.0 3.2e-29
7096.1 2.0e-29
7097.1 1.1e-29
7123.4 2.0e-29
7120.1 5.6e-29
7116.6 8.9e-29
7111.0 1.0e-28
7104.9 8.9e-29
7098.4 6.3e-29
7091.4 3.5e-29
7086.5 2.5e-29
7081.4 1.4e-29
7128.7 5.0e-29
7131.5 7.9e-29
7135.2 1.0e-28
7138.5 1.0e-28
7141.3 7.1e-29
7143.7 4.5e-29
7145.0 3.2e-29
7146.1 2.0e-29
7147.1 1.1e-29
7173.4 2.0e-29
7170.1 5.6e-29
7166.6 8.9e-29
7161.0 1.0e-28
7154.9 8.9e-29
7148.4 6.3e-29
7141.4 3.5e-29
7136.5 2.5e-29
7131.4 1.4e-29
7178.7 5.0e-29
7181.5 7.9e-29
7185.2 1.0e-28
7188.5 1.0e-28
7191.3 7.1e-29
7193.7 4.5e-29
7195.0 3.2e-29
7196.1 2.0e-29
7197.1 1.1e-29
7298.4 2.0e-29
7295.1 5.6e-29
7291.6 8.9e-29
7286.0 1.0e-28
7279.9 8.9e-29
7273.4 6.3e-29
7266.4 3.5e-29
7261.5 2.5e-29
7256.4 1.4e-29
7303.7 5.0e-29
7306.5 7.9e-29
7310.2 1.0e-28
7313.5 1.0e-28
7316.3 7.1e-29
7318.7 4.5e-29
7320.0 3.2e-29
7321.1 2.0e-29
7322.1 1.1e-29
7348.4 2.0e-29
7345.1 5.6e-29
7341.6 8.9e-29
7336.0 1.0e-28
7329.9 8.9e-29
7323.4 6.3e-29
7316.4 3.5e-29
7311.5 2.5e-29
7306.4 1.4e-29
7353.7 5.0e-29
7356.5 7.9e-29
7360.2 1.0e-28
7363.5 1.0e-28
7366.3 7.1e-29
7368.7 4.5e-29
7370.0 3.2e-29
7371.1 2.0e-29
7372.1 1.1e-29
7418.4 2.0e-29
7415.1 5.6e-29
7411.6 8.9e-29
7406.0 1.0e-28
7399.9 8.9e-29
7393.4 6.3e-29
7386.4 3.5e-29
7381.5 2.5e-29
7376.4 1.4e-29
7423.7 5.0e-29
7426.5 7.9e-29
7430.2 1.0e-28
7433.5 1.0e-28
7436.3 7.1e-29
7438.7 4.5e-29
7440.0 3.2e-29
7441.1 2.0e-29
7442.1 1.1e-29
7468.4 2.0e-29
7465.1 5.6e-29
7461.6 8.9e-29
7456.0 1.0e-28
7449.9 8.9e-29
7443.4 6.3e-29
7436.4 3.5e-29
7431.5 2.5e-29
7426.4 1.4e-29
7473.7 5.0e-29
7476.5 7.9e-29
7480.2 1.0e-28
7483.5 1.0e-28
7486.3 7.1e-29
7488.7 4.5e-29
7490.0 3.2e-29
7491.1 2.0e-29
7492.1 1.1e-29
7528.4 2.0e-29
7525.1 5.6e-29
7521.6 8.9e-29
7516.0 1.0e-28
7509.9 8.9e-29
7503.4 6.3e-29
7496.4 3.5e-29
7491.5 2.5e-29
7486.4 1.4e-29
7533.7 5.0e-29
7536.5 7.9e-29
7540.2 1.0e-28
7543.5 1.0e-28
7546.3 7.1e-29
7548.7 4.5e-29
7550.0 3.2e-29
7551.1 2.0e-29
7552.1 1.1e-29
7573.4 2.0e-29
7570.1 5.6e-29
7566.6 8.9e-29
7561.0 1.0e-28
7554.9 8.9e-29
7548.4 6.3e-29
7541.4 3.5e-29
7536.5 2.5e-29
7531.4 1.4e-29
7578.7 5.0e-29
7581.5 7.9e-29
7585.2 1.0e-28
7588.5 1.0e-28
7591.3 7.1e-29
7593.7 4.5e-29
7595.0 3.2e-29
7596.1 2.0e-29
7597.1 1.1e-29
7628.4 2.0e-29
7625.1 5.6e-29
7621.6 8.9e-29
7616.0 1.0e-28
7609.9 8.9e-29
7603.4 6.3e-29
7596.4 3.5e-29
7591.5 2.5e-29
7586.4 1.4e-29
7633.7 5.0e-29
7636.5 7.9e-29
7640.2 1.0e-28
7643.5 1.0e-28
7646.3 7.1e-29
7648.7 4.5e-29
7650.0 3.2e-29
7651.1 2.0e-29
6985.1 1.8e-29
6981.6 2.8e-29
6976.0 3.2e-29
6969.9 2.8e-29
6963.4 2.0e-29
6956.4 1.1e-29
6993.7 1.6e-29
6996.5 2.5e-29
7000.2 3.2e-29
7003.5 3.2e-29
7006.3 2.2e-29
7008.7 1.4e-29
7045.1 1.8e-29
7041.6 2.8e-29
7036.0 3.2e-29
7029.9 2.8e-29
7023.4 2.0e-29
7016.4 1.1e-29
7053.7 1.6e-29
7056.5 2.5e-29
7060.2 3.2e-29
7063.5 3.2e-29
7066.3 2.2e-29
7068.7 1.4e-29
7095.1 1.8e-29
7091.6 2.8e-29
7086.0 3.2e-29
7079.9 2.8e-29
7073.4 2.0e-29
7066.4 1.1e-29
7103.7 1.6e-29
7106.5 2.5e-29
7110.2 3.2e-29
7113.5 3.2e-29
7116.3 2.2e-29
7118.7 1.4e-29
7155.1 1.8e-29
7151.6 2.8e-29
7146.0 3.2e-29
7139.9 2.8e-29
7133.4 2.0e-29
7126.4 1.1e-29
7163.7 1.6e-29
7166.5 2.5e-29
7170.2 3.2e-29
7173.5 3.2e-29
7176.3 2.2e-29
7178.7 1.4e-29
7275.1 1.8e-29
7271.6 2.8e-29
7266.0 3.2e-29
7259.9 2.8e-29
7253.4 2.0e-29
7283.7 1.6e-29
7286.5 2.5e-29
7290.2 3.2e-29
7293.5 3.2e-29
7296.3 2.2e-29
7298.7 1.4e-29
7315.1 1.8e-29
7311.6 2.8e-29
7306.0 3.2e-29
7299.9 2.8e-29
7293.4 2.0e-29
7286.4 1.1e-29
7323.7 1.6e-29
7326.5 2.5e-29
7330.2 3.2e-29
7333.5 3.2e-29
7336.3 2.2e-29
7338.7 1.4e-29
7390.1 1.8e-29
7386.6 2.8e-29
7381.0 3.2e-29
7374.9 2.8e-29
7368.4 2.0e-29
7361.4 1.1e-29
7398.7 1.6e-29
7401.5 2.5e-29
7405.2 3.2e-29
7408.5 3.2e-29
7411.3 2.2e-29
7413.7 1.4e-29
7445.1 1.8e-29
7441.6 2.8e-29
7436.0 3.2e-29
7429.9 2.8e-29
7423.4 2.0e-29
7416.4 1.1e-29
7453.7 1.6e-29
7456.5 2.5e-29
7460.2 3.2e-29
7463.5 3.2e-29
7466.3 2.2e-29
7468.7 1.4e-29
7495.1 1.8e-29
7491.6 2.8e-29
7486.0 3.2e-29
7479.9 2.8e-29
7473.4 2.0e-29
7466.4 1.1e-29
7503.7 1.6e-29
7506.5 2.5e-29
7510.2 3.2e-29
7513.5 3.2e-29
7516.3 2.2e-29
7518.7 1.4e-29
7555.1 1.8e-29
7551.6 2.8e-29
7546.0 3.2e-29
7539.9 2.8e-29
7533.4 2.0e-29
7526.4 1.1e-29
7563.7 1.6e-29
7566.5 2.5e-29
7570.2 3.2e-29
7573.5 3.2e-29
7576.3 2.2e-29
7578.7 1.4e-29
7605.1 1.8e-29
7601.6 2.8e-29
7596.0 3.2e-29
7589.9 2.8e-29
7583.4 2.0e-29
7576.4 1.1e-29
7613.7 1.6e-29
7616.5 2.5e-29
7620.2 3.2e-29
7623.5 3.2e-29
7626.3 2.2e-29
7628.7 1.4e-29
7640.1 1.8e-29
7636.6 2.8e-29
7631.0 3.2e-29
7624.9 2.8e-29
7618.4 2.0e-29
7611.4 1.1e-29
7648.7 1.6e-29
7651.5 2.5e-29
6963.4 6.3e-29
6960.1 1.8e-28
6956.6 2.8e-28
6951.0 3.2e-28
6965.8 3.2e-29
6968.7 1.6e-28
6971.5 2.5e-28
6975.2 3.2e-28
6978.5 3.2e-28
6981.3 2.2e-28
6983.7 1.4e-28
6985.0 1.0e-28
6986.1 6.3e-29
6987.1 3.5e-29
6987.8 1.8e-29
7028.4 6.3e-29
7025.1 1.8e-28
7021.6 2.8e-28
7016.0 3.2e-28
7009.9 2.8e-28
7003.4 2.0e-28
6996.4 1.1e-28
6991.5 7.9e-29
6986.4 4.5e-29
6981.1 2.5e-29
6975.5 1.3e-29
7030.8 3.2e-29
7033.7 1.6e-28
7036.5 2.5e-28
7040.2 3.2e-28
7043.5 3.2e-28
7046.3 2.2e-28
7048.7 1.4e-28
7050.0 1.0e-28
7051.1 6.3e-29
7052.1 3.5e-29
7052.8 1.8e-29
7138.4 6.3e-29
7135.1 1.8e-28
7131.6 2.8e-28
7126.0 3.2e-28
7119.9 2.8e-28
7113.4 2.0e-28
7106.4 1.1e-28
7101.5 7.9e-29
7096.4 4.5e-29
7091.1 2.5e-29
7085.5 1.3e-29
7140.8 3.2e-29
7143.7 1.6e-28
7146.5 2.5e-28
7150.2 3.2e-28
7153.5 3.2e-28
7156.3 2.2e-28
7158.7 1.4e-28
7160.0 1.0e-28
7161.1 6.3e-29
7162.1 3.5e-29
7162.8 1.8e-29
7193.4 6.3e-29
7190.1 1.8e-28
7186.6 2.8e-28
7181.0 3.2e-28
7174.9 2.8e-28
7168.4 2.0e-28
7161.4 1.1e-28
7156.5 7.9e-29
7151.4 4.5e-29
7146.1 2.5e-29
7140.5 1.3e-29
7195.8 3.2e-29
7198.7 1.6e-28
7201.5 2.5e-28
7205.2 3.2e-28
7208.5 3.2e-28
7211.3 2.2e-28
7213.7 1.4e-28
7215.0 1.0e-28
7216.1 6.3e-29
7217.1 3.5e-29
7217.8 1.8e-29
7343.4 6.3e-29
7340.1 1.8e-28
7336.6 2.8e-28
7331.0 3.2e-28
7324.9 2.8e-28
7318.4 2.0e-28
7311.4 1.1e-28
7306.5 7.9e-29
7301.4 4.5e-29
7296.1 2.5e-29
7290.5 1.3e-29
7345.8 3.2e-29
7348.7 1.6e-28
7351.5 2.5e-28
7355.2 3.2e-28
7358.5 3.2e-28
7361.3 2.2e-28
7363.7 1.4e-28
7365.0 1.0e-28
7366.1 6.3e-29
7367.1 3.5e-29
7367.8 1.8e-29
7473.4 6.3e-29
7470.1 1.8e-28
7466.6 2.8e-28
7461.0 3.2e-28
7454.9 2.8e-28
7448.4 2.0e-28
7441.4 1.1e-28
7436.5 7.9e-29
7431.4 4.5e-29
7426.1 2.5e-29
7420.5 1.3e-29
7475.8 3.2e-29
7478.7 1.6e-28
7481.5 2.5e-28
7485.2 3.2e-28
7488.5 3.2e-28
7491.3 2.2e-28
7493.7 1.4e-28
7495.0 1.0e-28
7496.1 6.3e-29
7497.1 3.5e-29
7497.8 1.8e-29
7543.4 6.3e-29
7540.1 1.8e-28
7536.6 2.8e-28
7531.0 3.2e-28
7524.9 2.8e-28
7518.4 2.0e-28
7511.4 1.1e-28
7506.5 7.9e-29
7501.4 4.5e-29
7496.1 2.5e-29
7490.5 1.3e-29
7545.8 3.2e-29
7548.7 1.6e-28
7551.5 2.5e-28
7555.2 3.2e-28
7558.5 3.2e-28
7561.3 2.2e-28
7563.7 1.4e-28
7565.0 1.0e-28
7566.1 6.3e-29
7567.1 3.5e-29
7567.8 1.8e-29
7598.4 6.3e-29
7595.1 1.8e-28
7591.6 2.8e-28
7586.0 3.2e-28
7579.9 2.8e-28
7573.4 2.0e-28
7566.4 1.1e-28
7561.5 7.9e-29
7556.4 4.5e-29
7551.1 2.5e-29
7545.5 1.3e-29
7600.8 3.2e-29
7603.7 1.6e-28
7606.5 2.5e-28
7610.2 3.2e-28
7613.5 3.2e-28
7616.3 2.2e-28
7618.7 1.4e-28
7620.0 1.0e-28
7621.1 6.3e-29
7622.1 3.5e-29
7622.8 1.8e-29
7003.4 2.0e-28
7000.1 5.6e-28
6996.6 8.9e-28
6991.0 1.0e-27
6984.9 8.9e-28
6978.4 6.3e-28
6971.4 3.5e-28
6966.5 2.5e-28
6961.4 1.4e-28
6956.1 7.9e-29
7005.8 1.0e-28
7008.7 5.0e-28
7011.5 7.9e-28
7015.2 1.0e-27
7018.5 1.0e-27
7021.3 7.1e-28
7023.7 4.5e-28
7025.0 3.2e-28
7026.1 2.0e-28
7027.1 1.1e-28
7027.8 5.6e-29
7028.3 2.8e-29
7028.7 1.4e-29
7083.4 2.0e-28
7080.1 5.6e-28
7076.6 8.9e-28
7071.0 1.0e-27
7064.9 8.9e-28
7058.4 6.3e-28
7051.4 3.5e-28
7046.5 2.5e-28
7041.4 1.4e-28
7036.1 7.9e-29
7030.5 4.0e-29
7024.8 2.0e-29
7085.8 1.0e-28
7088.7 5.0e-28
7091.5 7.9e-28
7095.2 1.0e-27
7098.5 1.0e-27
7101.3 7.1e-28
7103.7 4.5e-28
7105.0 3.2e-28
7106.1 2.0e-28
7107.1 1.1e-28
7107.8 5.6e-29
7108.3 2.8e-29
7108.7 1.4e-29
7148.4 2.0e-28
7145.1 5.6e-28
7141.6 8.9e-28
7136.0 1.0e-27
7129.9 8.9e-28
7123.4 6.3e-28
7116.4 3.5e-28
7111.5 2.5e-28
7106.4 1.4e-28
7101.1 7.9e-29
7095.5 4.0e-29
7089.8 2.0e-29
7150.8 1.0e-28
7153.7 5.0e-28
7156.5 7.9e-28
7160.2 1.0e-27
7163.5 1.0e-27
7166.3 7.1e-28
7168.7 4.5e-28
7170.0 3.2e-28
7171.1 2.0e-28
7172.1 1.1e-28
7172.8 5.6e-29
7173.3 2.8e-29
7173.7 1.4e-29
7503.4 2.0e-28
7500.1 5.6e-28
7496.6 8.9e-28
7491.0 1.0e-27
7484.9 8.9e-28
7478.4 6.3e-28
7471.4 3.5e-28
7466.5 2.5e-28
7461.4 1.4e-28
7456.1 7.9e-29
7450.5 4.0e-29
7444.8 2.0e-29
7505.8 1.0e-28
7508.7 5.0e-28
7511.5 7.9e-28
7515.2 1.0e-27
7518.5 1.0e-27
7521.3 7.1e-28
7523.7 4.5e-28
7525.0 3.2e-28
7526.1 2.0e-28
7527.1 1.1e-28
7527.8 5.6e-29
7528.3 2.8e-29
7528.7 1.4e-29
7583.4 2.0e-28
7580.1 5.6e-28
7576.6 8.9e-28
7571.0 1.0e-27
7564.9 8.9e-28
7558.4 6.3e-28
7551.4 3.5e-28
7546.5 2.5e-28
7541.4 1.4e-28
7536.1 7.9e-29
7530.5 4.0e-29
7524.8 2.0e-29
7585.8 1.0e-28
7588.7 5.0e-28
7591.5 7.9e-28
7595.2 1.0e-27
7598.5 1.0e-27
7601.3 7.1e-28
7603.7 4.5e-28
7605.0 3.2e-28
7606.1 2.0e-28
7607.1 1.1e-28
7607.8 5.6e-29
7608.3 2.8e-29
7608.7 1.4e-29
}\Cextra

\pgfplotstableread{
x y
6973.1 1.1e-28
6980.1 6.6e-29
6966.1 4.7e-29
6976.7 3.8e-29
6958.9 2.2e-29
6997.9 6.6e-29
7011.9 1.7e-29
7050.9 1.8e-29
7054.3 1.2e-29
7072.1 1.4e-29
7103.9 3.1e-29
7110.9 2.2e-29
7142.7 3.1e-29
6962.5 4.7e-29
6961.0 1.5e-29
7075.6 1.4e-29
7072.1 2.3e-29
7139.3 2.8e-29
7188.7 1.5e-29
7178.1 2.6e-29
7224.1 1.0e-28
7231.2 1.4e-28
7245.3 2.9e-28
7255.9 4.8e-28
7340.8 5.2e-28
7340.8 1.1e-27
7379.6 3.6e-29
7390.3 1.8e-29
7415.0 1.1e-29
7457.4 4.4e-29
7514.0 1.5e-29
7588.2 1.1e-29
7620.0 3.6e-29
7637.7 2.2e-29
7644.8 4.0e-29
7132.2 5.8e-28
7135.7 7.4e-28
7142.8 4.5e-27
7125.1 3.8e-27
7156.9 2.7e-27
7167.5 1.3e-26
7185.2 1.1e-27
7202.9 5.8e-28
7210.0 3.4e-28
7238.2 2.0e-28
7243.0 1.4e-28
7273.6 6.0e-29
7287.7 3.6e-29
7308.9 2.2e-29
7351.4 5.1e-29
7365.5 1.5e-29
7443.3 1.4e-28
7464.5 2.9e-28
7492.8 5.8e-28
7510.4 9.6e-28
7528.1 1.2e-28
7549.3 5.1e-29
7570.5 2.0e-28
7598.8 5.8e-28
7613.0 1.1e-27
7634.2 2.9e-28
7648.3 5.1e-29
6976.6 1.4e-28
6997.9 2.9e-28
7012.0 1.0e-28
7033.2 2.0e-28
7047.3 5.1e-29
7061.5 1.4e-28
7089.8 2.9e-28
7103.9 7.2e-29
7111.0 5.8e-28
7026.1 9.6e-28
7054.4 2.2e-27
7068.6 5.4e-27
7280 2.0e-29
7300 1.3e-29
7318 3.0e-29
7335 1.5e-29
7358 2.5e-29
7372 1.2e-29
7402 2.8e-29
7425 1.6e-29
7438 3.5e-29
7470 1.3e-29
7488 2.4e-29
7505 4.5e-29
7522 1.1e-29
7540 2.0e-29
7558 1.3e-29
7575 3.2e-29
7596 2.2e-29
7610 1.4e-29
7628 1.1e-29
7395 8.0e-29
7420 6.0e-29
7480 9.0e-29
7530 7.0e-29
7585 1.1e-28
7605 2.0e-28
7640 1.5e-28
7290 1.0e-28
7310 7.0e-29
7345 1.2e-28
7365 8.0e-29
6955 3.0e-28
6968 6.0e-28
6985 8.0e-29
7005 5.0e-29
7020 3.5e-29
7038 6.0e-29
7065 4.0e-29
7085 6.0e-29
7095 2.0e-29
7120 4.5e-29
7130 1.6e-29
7160 3.5e-29
7170 7.0e-29
7195 4.0e-29
7215 6.0e-29
7228 3.0e-29
7260 1.5e-29
}\Scat

\pgfplotsset{
  mypanel/.style={
    scale only axis, width=332bp, anchor=north west,
    xmin=6950, xmax=7654.1,
    ytick={1e-29,1e-28,1e-27,1e-26,1e-25,1e-24},
    yticklabels={\ylab{-29},\ylab{-28},\ylab{-27},\ylab{-26},\ylab{-25},\ylab{-24}},
    minor ytick={7e-30,8e-30,9e-30,2e-29,3e-29,4e-29,5e-29,6e-29,7e-29,8e-29,9e-29,2e-28,3e-28,4e-28,5e-28,6e-28,7e-28,8e-28,9e-28,2e-27,3e-27,4e-27,5e-27,6e-27,7e-27,8e-27,9e-27,2e-26,3e-26,4e-26,5e-26,6e-26,7e-26,8e-26,9e-26,2e-25,3e-25,4e-25,5e-25,6e-25,7e-25,8e-25,9e-25,2e-24,3e-24,4e-24,5e-24},
    ytick pos=left, xtick pos=left,
    tick align=outside, major tick length=4bp, minor tick length=2.5bp,
    axis line style={line width=0.8pt, black!80},
    every tick/.style={line width=0.6pt, black!80},
    yticklabel style={font=\tickfont, anchor=base east, yshift=-7bp, inner sep=0pt, xshift=-4bp},
    xticklabel style={font=\tickfont, anchor=base, inner sep=0pt, yshift=-24bp},
  },
  crdsm/.style={only marks, mark=square, mark size=1.85bp, black!65, mark options={line width=0.45pt}},
  litm/.style={only marks, mark=square, mark size=1.8bp, litgreen!90, mark options={line width=0.45pt}},
  hitm/.style={only marks, mark=square, mark size=1.6bp, hitblue, mark options={line width=0.45pt}},
}

\begin{document}
\begin{tikzpicture}
\path[use as bounding box] (0bp,0bp) rectangle (425bp,-852bp);

\begin{semilogyaxis}[mypanel, at={(94bp,-13bp)}, height=258bp, ymin=6.2e-30, ymax=5.46e-24, xtick=\empty]
\addplot[hitm, restrict expr to domain={\thisrow{h}}{0.5:1.5}] table {\Bone};
\addplot[hitm, restrict expr to domain={\thisrow{h}}{0.5:1.5}] table {\Btwo};
\end{semilogyaxis}

\begin{semilogyaxis}[mypanel, at={(94bp,-271bp)}, height=259bp, ymin=5.25e-30, ymax=5.55e-24, xtick=\empty]
\addplot[litm, restrict expr to domain={\thisrow{l}}{0.5:1.5}] table {\Bone};
\addplot[litm, restrict expr to domain={\thisrow{l}}{0.5:1.5}] table {\Btwo};
\addplot[litm, restrict expr to domain={\thisrow{l}}{0.5:1.5}] table {\Cfive};
\addplot[litm, restrict expr to domain={\thisrow{l}}{0.5:1.5}] table {\Csix};
\addplot[litm, restrict expr to domain={\thisrow{l}}{0.5:1.5}] table {\Celeven};
\addplot[litm, restrict expr to domain={\thisrow{l}}{0.5:1.5}] table {\Cfifteen};
\addplot[litm, restrict expr to domain={\thisrow{l}}{0.5:1.5}] table {\Csixteen};
\addplot[litm, restrict expr to domain={\thisrow{l}}{0.5:1.5}] table {\Cseventeen};
\addplot[litm, restrict expr to domain={\thisrow{l}}{0.5:1.5}] table {\Ctwenty};
\addplot[litm, restrict expr to domain={\thisrow{l}}{0.5:1.5}] table {\Ctwentyone};
\end{semilogyaxis}

\begin{semilogyaxis}[mypanel, at={(94bp,-530bp)}, height=259bp, ymin=8.1e-30, ymax=5.25e-24,
  xtick={7000,7200,7400,7600}, minor xtick={7100,7300,7500},
  xticklabels={7000,7200,7400,7600}, minor tick length=4bp]
\addplot[crdsm] table {\Scat};
\addplot[crdsm] table {\Cextra};
\addplot[crdsm] table {\Cweak};
\addplot[crdsm] table {\Cfive};
\addplot[crdsm] table {\Csix};
\addplot[crdsm] table {\Celeven};
\addplot[crdsm] table {\Cfifteen};
\addplot[crdsm] table {\Csixteen};
\addplot[crdsm] table {\Cseventeen};
\addplot[crdsm] table {\Ctwenty};
\addplot[crdsm] table {\Ctwentyone};
\addplot[crdsm] table {\Bone};
\addplot[crdsm] table {\Btwo};
\end{semilogyaxis}

\node[font=\fontsize{25bp}{30bp}\selectfont, text=titleblue] at (340.8bp,-47bp) {HITRAN};
\node[font=\fontsize{25bp}{30bp}\selectfont, text=litgreen] at (345bp,-305bp) {Literature};
\node[font=\fontsize{25bp}{30bp}\selectfont, text=black] at (340.7bp,-561.7bp) {CRDS};
\node[font=\fontsize{20bp}{24bp}\selectfont, anchor=base] at (244bp,-846bp) {Wavenumber (cm\raisebox{11bp}{\supfont -1})};
\node[font=\fontsize{20bp}{24bp}\selectfont, rotate=90, anchor=base] at (28.3bp,-405bp) {Line intensity (cm/molecule)};
\end{tikzpicture}
\end{document}
